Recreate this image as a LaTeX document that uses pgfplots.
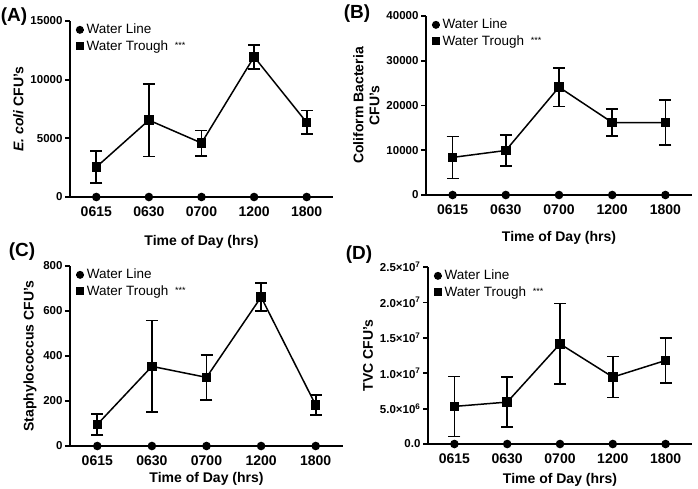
\documentclass[border=0pt]{standalone}
\usepackage{fontspec}
\setmainfont{Liberation Sans}
\usepackage{pgfplots}
\pgfplotsset{compat=1.18}

\pgfplotsset{
  panel/.style={
    scale only axis,
    clip=false,
    axis x line*=bottom,
    axis y line*=left,
    axis line style={line width=1.8pt, -},
    xmin=-0.5, xmax=4.5,
    ymin=0,
    xtick={0,1,2,3,4},
    xticklabels={0615,0630,0700,1200,1800},
    x tick style={draw=none},
    y tick style={line width=1.8pt, black},
    tick align=outside,
    major tick length=5pt,
    /pgf/number format/assume math mode=true,
    /pgf/number format/1000 sep={},
    scaled y ticks=false,
    xticklabel style={font=\fontsize{14}{16}\selectfont\bfseries, yshift=-1pt},
    yticklabel style={font=\fontsize{11.5}{13}\selectfont\bfseries, xshift=1pt},
    label style={font=\fontsize{14}{16}\selectfont\bfseries},
    xlabel={Time of Day (hrs)},
    legend cell align=left,
    legend style={draw=none, fill=none, anchor=north west, at={(0.015,1.0)},
      font=\fontsize{13.5}{15}\selectfont, row sep=1pt, inner sep=1pt},
    legend image code/.code={
      \draw[mark repeat=2, mark phase=2, mark size=3.2pt]
        plot coordinates {(0pt,0pt) (4pt,0pt) (8pt,0pt)};},
  },
  wline/.style={black, line width=1.5pt, mark=*, mark size=3.5pt,
    mark options={solid}},
  wtrough/.style={black, line width=1.5pt, mark=square*, mark size=4pt,
    error bars/.cd, y dir=both, y explicit,
    error bar style={line width=1.7pt},
    error mark options={rotate=90, mark size=6pt, line width=1.7pt}},
}
\newcommand{\stars}{\enspace\raisebox{2pt}{\fontsize{9}{9}\selectfont ***}}

\begin{document}
\begin{tikzpicture}[x=1pt, y=1pt]
\useasboundingbox (0,0) rectangle (698,488);

% (A) E. coli
\begin{axis}[panel, at={(70pt,291pt)}, anchor=south west,
  width=263pt, height=176pt, ymax=15000, ytick={0,5000,10000,15000},
  ylabel={\textit{E. coli} CFU's},
  xlabel style={yshift=-12pt}]
\addplot[wline] coordinates {(0,0)(1,0)(2,0)(3,0)(4,0)};
\addlegendentry{Water Line}
\addplot[wtrough] coordinates {
  (0,2550) +- (0,1370)
  (1,6550) +- (0,3100)
  (2,4600) +- (0,1080)
  (3,11950) +- (0,1020)
  (4,6350) +- (0,1010)};
\addlegendentry{Water Trough\stars}
\end{axis}

% (B) Coliform
\begin{axis}[panel, at={(426pt,293pt)}, anchor=south west,
  width=266pt, height=179pt, ymax=40000, ytick={0,10000,20000,30000,40000},
  ylabel={Coliform Bacteria\\CFU's}, ylabel style={align=center},
  xlabel style={yshift=-10pt}]
\addplot[wline] coordinates {(0,0)(1,0)(2,0)(3,0)(4,0)};
\addlegendentry{Water Line}
\addplot[wtrough] coordinates {
  (0,8400) +- (0,4700)
  (1,9950) +- (0,3450)
  (2,24100) +- (0,4350)
  (3,16200) +- (0,3000)
  (4,16150) +- (0,5050)};
\addlegendentry{Water Trough\stars}
\end{axis}

% (C) Staphylococcus
\begin{axis}[panel, at={(70pt,42pt)}, anchor=south west,
  width=273pt, height=180pt, ymax=800, ytick={0,200,400,600,800},
  ylabel={Staphylococcus CFU's}]
\addplot[wline] coordinates {(0,0)(1,0)(2,0)(3,0)(4,0)};
\addlegendentry{Water Line}
\addplot[wtrough] coordinates {
  (0,96) +- (0,46)
  (1,354) +- (0,204)
  (2,305) +- (0,101)
  (3,662) +- (0,63)
  (4,182) +- (0,45)};
\addlegendentry{Water Trough\stars}
\end{axis}

% (D) TVC, values in millions
\begin{axis}[panel, at={(428pt,44pt)}, anchor=south west,
  width=264pt, height=177pt, ymax=25, ytick={0,5,10,15,20,25},
  yticklabels={0.0, 5.0×10\textsuperscript{6}, 1.0×10\textsuperscript{7},
    1.5×10\textsuperscript{7}, 2.0×10\textsuperscript{7}, 2.5×10\textsuperscript{7}},
  ylabel={TVC CFU's}, xlabel style={yshift=-3pt}]
\addplot[wline] coordinates {(0,0)(1,0)(2,0)(3,0)(4,0)};
\addlegendentry{Water Line}
\addplot[wtrough] coordinates {
  (0,5.31) +- (0,4.23)
  (1,5.92) +- (0,3.55)
  (2,14.14) +- (0,5.7)
  (3,9.45) +- (0,2.9)
  (4,11.8) +- (0,3.15)};
\addlegendentry{Water Trough\stars}
\end{axis}

\node[font=\fontsize{19}{21}\selectfont\bfseries] at (14,471) {(A)};
\node[font=\fontsize{19}{21}\selectfont\bfseries] at (357,474) {(B)};
\node[font=\fontsize{19}{21}\selectfont\bfseries] at (22,236) {(C)};
\node[font=\fontsize{19}{21}\selectfont\bfseries] at (359,233) {(D)};
\end{tikzpicture}
\end{document}
